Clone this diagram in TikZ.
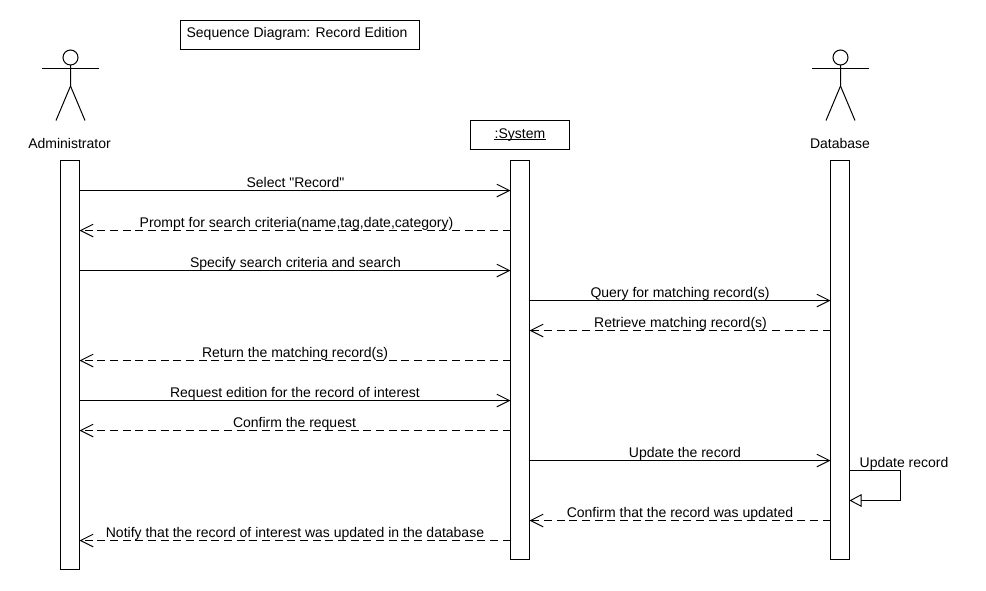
\documentclass[tikz,border=0pt]{standalone}
\usepackage{fontspec}
\setmainfont{Liberation Sans}
\newfontfamily\labelfont{Liberation Sans}
\usetikzlibrary{arrows.meta}
\tikzset{
  x=0.75pt,y=-0.75pt,
  base/.style={line width=0.75pt,black},
  box/.style={draw,base,fill=white,inner sep=0pt,outer sep=0pt,anchor=north west},
  bar/.style={draw,base,fill=white,inner sep=0pt,outer sep=0pt,minimum width=14.25pt,anchor=north},
  txt/.style={inner sep=0pt,font=\labelfont\fontsize{10.5}{12}\selectfont,anchor=base,text=black},
  call/.style={base,-{Straight Barb[length=9.5pt,width=9.5pt,line width=0.7pt]}},
  reply/.style={base,dash pattern=on 6pt off 3.5pt,-{Straight Barb[length=9.5pt,width=9.5pt,line width=0.7pt,sep=0pt]}},
  selfcall/.style={base,-{Triangle[open,fill=white,length=9pt,width=9.5pt,line width=0.7pt]}},
  limb/.style={base}
}
\newcommand{\stick}[2]{% name, x
  \node[circle,draw,base,minimum size=11.25pt,inner sep=0pt,outer sep=0pt] (#1head) at (#2,57.5) {};
  \coordinate (#1hip) at (#2,86);
  \coordinate (#1la) at (#2-28.5,68.5);
  \coordinate (#1ra) at (#2+28.5,68.5);
  \coordinate (#1ll) at (#2-14.5,120.5);
  \coordinate (#1rl) at (#2+14.5,120.5);
  \draw[limb] (#1head.south) -- (#1hip) -- (#1ll);
  \draw[limb] (#1hip) -- (#1rl);
  \draw[limb] (#1la) -- (#1ra);
}
\newcommand{\msgline}[6]{% style, from, to, y, label x, label
  \draw[#1] (#2 |- 0,#4) -- (#3 |- 0,#4);
  \node[txt] at (#5,#4-3) {#6};
}
\begin{document}
\begin{tikzpicture}
\useasboundingbox (0,0) rectangle (986,590);
\fill[white] (0,0) rectangle (986,590);

\node[box,minimum width=179.25pt,minimum height=21.75pt] (title) at (180.5,20.5) {};
\node[txt] (titletext) at (297,37.5) {Sequence Diagram: Record Edition};

\stick{adm}{70.5}
\stick{dbs}{840.5}
\node[txt] (admname) at (69.5,148.5) {Administrator};
\node[txt] (dbsname) at (840,148.5) {Database};

\node[box,minimum width=74.25pt,minimum height=21.75pt] (sysname) at (470.5,120.5) {};
\node[txt] (systext) at (520,138) {:System};
\draw[base] ([yshift=-0.8pt]systext.base west) -- ([yshift=-0.8pt]systext.base east);

\node[bar,minimum height=306.75pt] (adm) at (70,160.5) {};
\node[bar,minimum height=299.25pt] (sys) at (520,160.5) {};
\node[bar,minimum height=299.25pt] (dbs) at (840,160.5) {};

\msgline{call}{adm.east}{sys.west}{190.5}{295.5}{Select "Record"}
\msgline{reply}{sys.west}{adm.east}{230.5}{296.5}{Prompt for search criteria(name,tag,date,category)}
\msgline{call}{adm.east}{sys.west}{270.5}{295.5}{Specify search criteria and search}
\msgline{call}{sys.east}{dbs.west}{300.5}{680}{Query for matching record(s)}
\msgline{reply}{dbs.west}{sys.east}{330.5}{680.5}{Retrieve matching record(s)}
\msgline{reply}{sys.west}{adm.east}{360.5}{295}{Return the matching record(s)}
\msgline{call}{adm.east}{sys.west}{400.5}{295}{Request edition for the record of interest}
\msgline{reply}{sys.west}{adm.east}{430.5}{294.5}{Confirm the request}
\msgline{call}{sys.east}{dbs.west}{460.5}{685}{Update the record}
\msgline{reply}{dbs.west}{sys.east}{520.5}{680}{Confirm that the record was updated}
\msgline{reply}{sys.west}{adm.east}{540.5}{295}{Notify that the record of interest was updated in the database}

\coordinate (selfturn) at (900.5,470.5);
\draw[selfcall] (dbs.east |- 0,470.5) -- (selfturn) -- (900.5,500.5) -- (dbs.east |- 0,500.5);
\node[txt] (selflabel) at (904,467.5) {Update record};
\end{tikzpicture}
\end{document}
